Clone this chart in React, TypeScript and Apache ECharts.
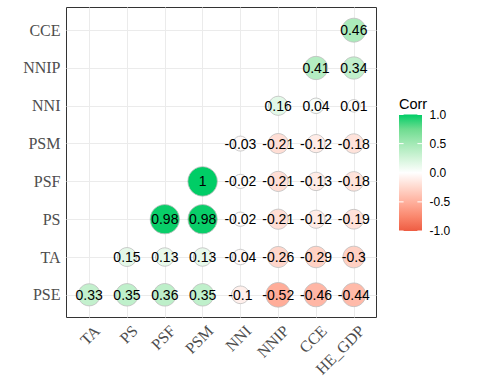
import React, { useEffect, useRef } from "react";
import * as echarts from "echarts";

const xCats = ["TA", "PS", "PSF", "PSM", "NNI", "NNIP", "CCE", "HE_GDP"];
const yCats = ["PSE", "TA", "PS", "PSF", "PSM", "NNI", "NNIP", "CCE"];

// each row j starts at x index j (lower triangle)
const rowPSE = [0.33, 0.35, 0.36, 0.35, -0.1, -0.52, -0.46, -0.44];
const rowTA = [0.15, 0.13, 0.13, -0.04, -0.26, -0.29, -0.3];
const rowPS = [0.98, 0.98, -0.02, -0.21, -0.12, -0.19];
const rowPSF = [1, -0.02, -0.21, -0.13, -0.18];
const rowPSM = [-0.03, -0.21, -0.12, -0.18];
const rowNNI = [0.16, 0.04, 0.01];
const rowNNIP = [0.41, 0.34];
const rowCCE = [0.46];
const rows = [rowPSE, rowTA, rowPS, rowPSF, rowPSM, rowNNI, rowNNIP, rowCCE];

const legendTicks = [1, 0.5, 0, -0.5, -1];
const legendLabels = ["1.0", "0.5", "0.0", "-0.5", "-1.0"];
const scaleColors = [
  "#EE5C42", "#FA886E", "#FFB09D", "#FFD8CD", "#FFFFFF",
  "#D2F4D9", "#A3E9B5", "#6EDC90", "#00CD66",
];

export default function App() {
  const ref = useRef<HTMLDivElement>(null);
  useEffect(() => {
    const chart = echarts.init(ref.current as HTMLDivElement, null, { renderer: "svg" });
    const data: number[][] = [];
    rows.forEach((row, j) => row.forEach((v, k) => data.push([j + k, j, v])));
    const idx = xCats.map((_, i) => i);
    const sizeOf = (v: number) =>
      12.5 + 17 * Math.sqrt(Math.max(0, (Math.abs(v) - 0.01) / 0.99));

    const barX = 399, barTop = 114.5, barH = 116.5, barW = 23;
    const yOf = (v: number) => barTop + ((1 - v) / 2) * barH;
    const stops = scaleColors
      .slice()
      .reverse()
      .map((c, i) => ({ offset: i / (scaleColors.length - 1), color: c }));
    const graphics: any[] = [
      {
        type: "text",
        x: 399,
        y: 103.5,
        style: {
          text: "Corr",
          fill: "#000",
          fontSize: 14.5,
          fontFamily: "Liberation Sans",
          fontWeight: "normal",
          textAlign: "left",
          textVerticalAlign: "middle",
        },
      },
      {
        type: "rect",
        shape: { x: barX, y: barTop, width: barW, height: barH },
        style: {
          fill: { type: "linear", x: 0, y: 0, x2: 0, y2: 1, colorStops: stops },
        },
      },
    ];
    legendTicks.forEach((v, i) => {
      const y = yOf(v);
      graphics.push({
        type: "line",
        shape: { x1: barX, y1: y, x2: barX + 4.6, y2: y },
        style: { stroke: "#fff", lineWidth: 1 },
      });
      graphics.push({
        type: "line",
        shape: { x1: barX + barW - 4.6, y1: y, x2: barX + barW, y2: y },
        style: { stroke: "#fff", lineWidth: 1 },
      });
      graphics.push({
        type: "text",
        x: 429.5,
        y,
        style: {
          text: legendLabels[i],
          fill: "#000",
          fontSize: 12,
          fontFamily: "Liberation Sans",
          fontWeight: "normal",
          textAlign: "left",
          textVerticalAlign: "middle",
        },
      });
    });

    const shift = 0.06;
    chart.setOption({
      animation: false,
      backgroundColor: "#fff",
      grid: {
        left: 66.5,
        top: 7.5,
        width: 310,
        height: 310,
        show: true,
        borderColor: "#333",
        borderWidth: 1,
        backgroundColor: "#fff",
      },
      xAxis: [
        {
          type: "value",
          min: -0.6,
          max: 7.6,
          position: "bottom",
          axisLine: { show: false },
          axisTick: { show: true, customValues: idx, length: 4, lineStyle: { color: "#333" } },
          axisLabel: { show: false },
          splitLine: { show: false },
        },
        {
          type: "value",
          min: -0.6 - shift,
          max: 7.6 - shift,
          position: "bottom",
          axisLine: { show: false },
          axisTick: { show: false },
          splitLine: { show: false },
          axisLabel: {
            show: true,
            customValues: idx,
            formatter: (v: number) => xCats[Math.round(v)] ?? "",
            rotate: 45,
            align: "right",
            verticalAlign: "top",
            margin: 5,
            fontFamily: "Liberation Serif",
            fontSize: 16,
            color: "#4D4D4D",
          },
        },
      ],
      yAxis: {
        type: "value",
        min: -0.6,
        max: 7.6,
        axisLine: { show: false },
        axisTick: { show: true, customValues: idx, length: 4, lineStyle: { color: "#333" } },
        splitLine: { show: false },
        axisLabel: {
          show: true,
          customValues: idx,
          formatter: (v: number) => yCats[Math.round(v)] ?? "",
          margin: 6,
          fontFamily: "Liberation Serif",
          fontSize: 16,
          color: "#4D4D4D",
        },
      },
      visualMap: {
        type: "continuous",
        show: false,
        min: -1,
        max: 1,
        dimension: 2,
        seriesIndex: 1,
        inRange: { color: scaleColors },
      },
      graphic: graphics,
      series: [
        {
          type: "scatter",
          data: [],
          silent: true,
          z: 1,
          markLine: {
            silent: true,
            z: 1,
            symbol: ["none", "none"],
            label: { show: false },
            lineStyle: { color: "#EBEBEB", width: 1, type: "solid" },
            emphasis: { disabled: true },
            data: [
              ...idx.map((i) => ({ xAxis: i })),
              ...idx.map((j) => ({ yAxis: j })),
            ],
          },
        },
        {
          type: "scatter",
          z: 3,
          data,
          symbol: "circle",
          symbolSize: (val: number[]) => sizeOf(val[2]),
          itemStyle: { borderColor: "#BEBEBE", borderWidth: 0.8, opacity: 1 },
          label: {
            show: true,
            position: "inside",
            formatter: (p: any) => String(p.value[2]),
            color: "#000",
            fontFamily: "Liberation Sans",
            fontSize: 14,
          },
          emphasis: { disabled: true },
        },
      ],
    });
    return () => chart.dispose();
  }, []);
  return (
    <div
      ref={ref}
      style={{ position: "absolute", left: 0, top: 0, width: 480, height: 384 }}
    />
  );
}
